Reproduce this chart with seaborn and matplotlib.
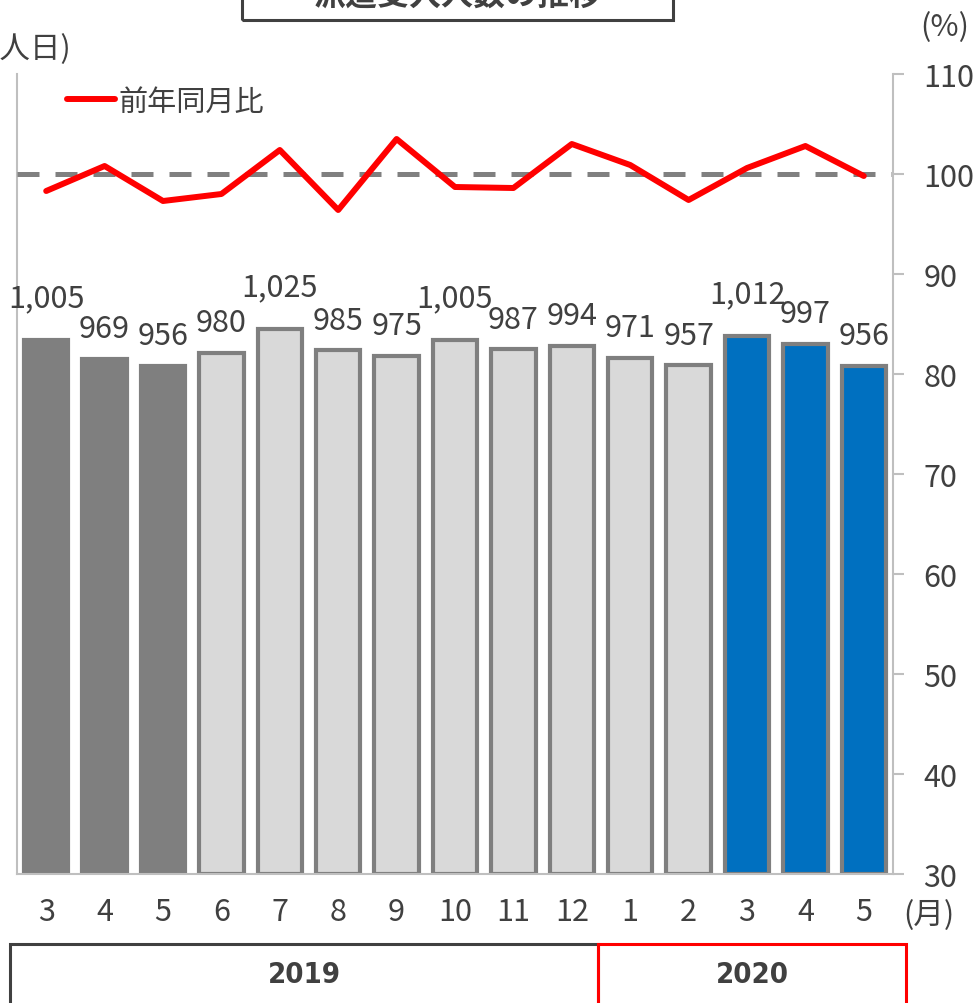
import numpy as np
import pandas as pd
import matplotlib
matplotlib.use("Agg")
import matplotlib.pyplot as plt
from matplotlib.patches import Rectangle
import seaborn as sns

# Monthly dispatch-acceptance figures (person-days) and year-over-year ratio (%)
periods = ["2019-03", "2019-04", "2019-05", "2019-06", "2019-07", "2019-08", "2019-09",
           "2019-10", "2019-11", "2019-12", "2020-01", "2020-02", "2020-03", "2020-04", "2020-05"]
month_labels = ["3", "4", "5", "6", "7", "8", "9", "10", "11", "12", "1", "2", "3", "4", "5"]
person_days = [1005, 969, 956, 980, 1025, 985, 975, 1005, 987, 994, 971, 957, 1012, 997, 956]
yoy_ratio = [98.3, 100.8, 97.3, 98.0, 102.4, 96.4, 103.5, 98.7, 98.6, 103.0,
             100.9, 97.4, 100.6, 102.8, 99.8]
bar_groups = ["prev"] * 3 + ["mid"] * 9 + ["curr"] * 3
year_labels = ["2019", "2020"]

sns.set_theme(style="white")
plt.rcParams["font.family"] = ["Noto Sans CJK JP", "DejaVu Sans"]

TXT = "#404040"
W, H = 978, 1004
fig = plt.figure(figsize=(W / 100, H / 100), dpi=100)

def fx(px):
    return px / W

def fy(py):
    return 1 - py / H

ax_l, ax_r, ax_t, ax_b = 17, 893, 75, 875
ax = fig.add_axes([fx(ax_l), fy(ax_b), fx(ax_r - ax_l), (ax_b - ax_t) / H])

face = {"prev": "#7f7f7f", "mid": "#d9d9d9", "curr": "#0070c0"}
edge = {"prev": "#7f7f7f", "mid": "#7f7f7f", "curr": "#7f7f7f"}

df = pd.DataFrame({"period": periods, "persons": person_days, "group": bar_groups})
sns.barplot(data=df, x="period", y="persons", hue="period",
            palette=[face[g] for g in bar_groups], legend=False,
            width=0.76, ax=ax, saturation=1)
for patch, g in zip(ax.patches, bar_groups):
    patch.set_edgecolor(edge[g])
    patch.set_linewidth(3.0)

ax.set_ylim(0, 1505)
ax.set_xlim(-0.5, 14.5)
ax.set_xlabel("")
ax.set_ylabel("")
ax.set_yticks([])
ax.set_xticks(range(len(month_labels)))
ax.set_xticklabels(month_labels, fontsize=22, color=TXT)
ax.tick_params(axis="x", length=0, pad=16)
for s in ["top", "right"]:
    ax.spines[s].set_visible(False)
for s in ["left", "bottom"]:
    ax.spines[s].set_color("#bfbfbf")
    ax.spines[s].set_linewidth(1.5)

# value labels over each bar (four-digit labels sit a little higher)
for i, v in enumerate(person_days):
    lift = 19 if v >= 1000 else 10.5
    ax.annotate(f"{v:,}", (i, v), xytext=(0, lift), textcoords="offset points",
                ha="center", va="bottom", fontsize=22, color=TXT)

# secondary axis: year-over-year ratio
ax2 = ax.twinx()
ax2.axhline(100, color="#808080", lw=3.6, dashes=(4.4, 3.2), zorder=1)
sns.lineplot(x=np.arange(len(yoy_ratio)), y=yoy_ratio, ax=ax2, color="#ff0000",
             lw=4.3, label="前年同月比", zorder=3)
ax2.set_ylim(30, 110)
ax2.set_xlim(-0.5, 14.5)
ax2.set_yticks(range(30, 111, 10))
ax2.tick_params(axis="y", length=8, width=1.5, color="#bfbfbf", pad=14,
                labelsize=22, labelcolor=TXT)
for s in ["top", "left", "bottom"]:
    ax2.spines[s].set_visible(False)
ax2.spines["right"].set_color("#bfbfbf")
ax2.spines["right"].set_linewidth(1.5)
leg = ax2.legend(loc="upper left", bbox_to_anchor=(0.027, 1.017), frameon=False,
                 fontsize=21, handlelength=1.65, handletextpad=0.12,
                 labelcolor=TXT)
ax.set_zorder(0)
ax2.set_zorder(1)

# axis unit captions
fig.text(fx(71), fy(50), "(人日)", ha="right", va="center", fontsize=22, color=TXT)
fig.text(fx(945), fy(28), "(%)", ha="center", va="center", fontsize=22, color=TXT)
fig.text(fx(929), fy(916), "(月)", ha="center", va="center", fontsize=22, color=TXT)

# title box at the top
fig.patches.append(Rectangle((fx(242), fy(21)), fx(673 - 242), 40 / H,
                             transform=fig.transFigure, fill=False,
                             edgecolor=TXT, lw=2.2))
fig.text(fx(457), fy(-4), "派遣受入人数の推移", ha="center", va="center",
         fontsize=23, fontweight="bold", color=TXT)

# year boxes under the month axis
box_top, box_bot = 945, 1030
fig.patches.append(Rectangle((fx(10), fy(box_bot)), fx(598 - 10), (box_bot - box_top) / H,
                             transform=fig.transFigure, fill=False,
                             edgecolor=TXT, lw=2.2))
fig.patches.append(Rectangle((fx(598), fy(box_bot)), fx(906 - 598), (box_bot - box_top) / H,
                             transform=fig.transFigure, fill=False,
                             edgecolor="#ff0000", lw=2.2))
for xc, lab in zip([304, 752], year_labels):
    fig.text(fx(xc), fy(975), lab, ha="center", va="center", fontsize=21,
             fontweight="bold", color=TXT, fontstretch="condensed",
             family=["Liberation Sans Narrow", "DejaVu Sans"])

fig.savefig("out.png", dpi=100)
